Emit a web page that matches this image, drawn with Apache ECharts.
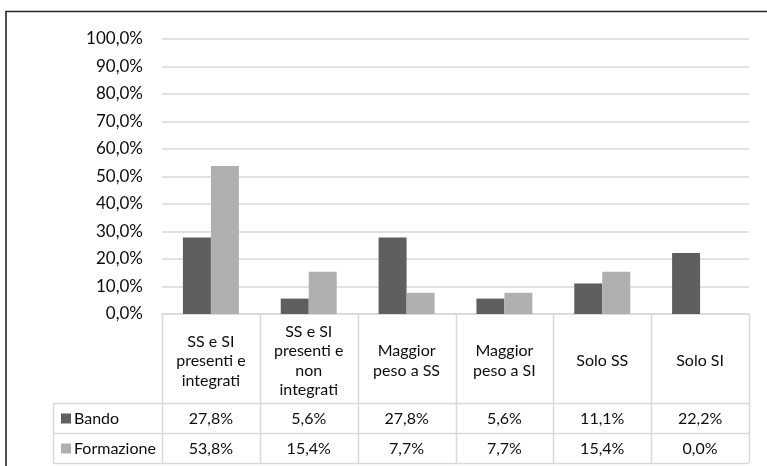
<!DOCTYPE html>
<html>
<head>
<meta charset="utf-8">
<script src="https://cdn.jsdelivr.net/npm/echarts@6/dist/echarts.min.js"></script>
<style>
  html, body { margin: 0; padding: 0; background: #fff; }
  #chart { width: 767px; height: 466px; }
</style>
</head>
<body>
<div id="chart"></div>
<script>
// Categories (header row of the data table)
const categories = [
  'SS e SI\npresenti e\nintegrati',
  'SS e SI\npresenti e\nnon\nintegrati',
  'Maggior\npeso a SS',
  'Maggior\npeso a SI',
  'Solo SS',
  'Solo SI'
];
const seriesNames = ['Bando', 'Formazione'];
// Percent values
const bando = [27.8, 5.6, 27.8, 5.6, 11.1, 22.2];
const formazione = [53.8, 15.4, 7.7, 7.7, 15.4, 0.0];
// Value axis ticks
const yTicks = [0, 10, 20, 30, 40, 50, 60, 70, 80, 90, 100];

const colors = ['#5f5f5f', '#b0b0b0'];
const FONT = 'Lato, "Open Sans", sans-serif';
const TEXT = '#0d0d0d';
const LINE = '#d9d9d9';

const W = 767, H = 466;
const G = { left: 162, right: 18, top: 39, bottom: 152 };
const plotW = W - G.left - G.right;
const axisY = H - G.bottom;           // baseline of the plot
const headerBottom = axisY + 89;      // end of category header row
const rowH = 30;
const tableLeft = 53;
const colW = plotW / categories.length;

const fmt = v => v.toFixed(1).replace('.', ',') + '%';

const graphic = [];
// Outer chart frame
graphic.push({
  type: 'rect', silent: true,
  shape: { x: 6, y: 11.5, width: 900, height: 600 },
  style: { fill: 'none', stroke: '#262626', lineWidth: 1.6 }
});
// Table horizontal rules
[headerBottom, headerBottom + rowH, headerBottom + 2 * rowH].forEach(y => {
  graphic.push({
    type: 'line', silent: true,
    shape: { x1: tableLeft, y1: y + 0.5, x2: G.left + plotW, y2: y + 0.5 },
    style: { stroke: LINE, lineWidth: 1.5 }
  });
});
// Table vertical rules
graphic.push({
  type: 'line', silent: true,
  shape: { x1: tableLeft + 0.5, y1: headerBottom, x2: tableLeft + 0.5, y2: headerBottom + 2 * rowH },
  style: { stroke: LINE, lineWidth: 1.5 }
});
for (let i = 0; i <= categories.length; i++) {
  const x = Math.round(G.left + i * colW) + 0.5;
  graphic.push({
    type: 'line', silent: true,
    shape: { x1: x, y1: axisY, x2: x, y2: headerBottom + 2 * rowH },
    style: { stroke: LINE, lineWidth: 1.5 }
  });
}
// Legend keys and values of the data table
[bando, formazione].forEach((vals, r) => {
  const cy = headerBottom + rowH * r + rowH / 2 + 0.5;
  graphic.push({
    type: 'rect', silent: true,
    shape: { x: 61, y: cy - 5, width: 10, height: 10 },
    style: { fill: colors[r] }
  });
  graphic.push({
    type: 'text', silent: true,
    style: { x: 74, y: cy, text: seriesNames[r], fill: TEXT, font: '16px ' + FONT, verticalAlign: 'middle', align: 'left' }
  });
  vals.forEach((v, c) => {
    graphic.push({
      type: 'text', silent: true,
      style: { x: G.left + colW * (c + 0.5), y: cy, text: fmt(v), fill: TEXT, font: '16px ' + FONT, verticalAlign: 'middle', align: 'center' }
    });
  });
});

const chart = echarts.init(document.getElementById('chart'), null, { renderer: 'canvas' });
chart.setOption({
  animation: false,
  backgroundColor: '#fff',
  textStyle: { fontFamily: FONT },
  grid: { left: G.left, right: G.right, top: G.top, bottom: G.bottom, containLabel: false },
  xAxis: {
    type: 'category',
    data: categories,
    axisLine: { show: true, lineStyle: { color: LINE, width: 1.5 } },
    axisTick: { show: false },
    axisLabel: {
      interval: 0, margin: 47, color: TEXT, fontSize: 16, fontFamily: FONT,
      lineHeight: 19.5, verticalAlign: 'middle', align: 'center'
    }
  },
  yAxis: {
    type: 'value',
    min: yTicks[0], max: yTicks[yTicks.length - 1], interval: yTicks[1] - yTicks[0],
    axisLine: { show: false },
    axisTick: { show: false },
    splitLine: { lineStyle: { color: LINE, width: 1.5 } },
    axisLabel: { formatter: fmt, color: TEXT, fontSize: 17, fontFamily: FONT, margin: 19 }
  },
  series: [
    { name: seriesNames[0], type: 'bar', data: bando, barWidth: 28, barGap: '0%', itemStyle: { color: colors[0] } },
    { name: seriesNames[1], type: 'bar', data: formazione, barWidth: 28, barGap: '0%', itemStyle: { color: colors[1] } }
  ],
  graphic: graphic
});
</script>
</body>
</html>
